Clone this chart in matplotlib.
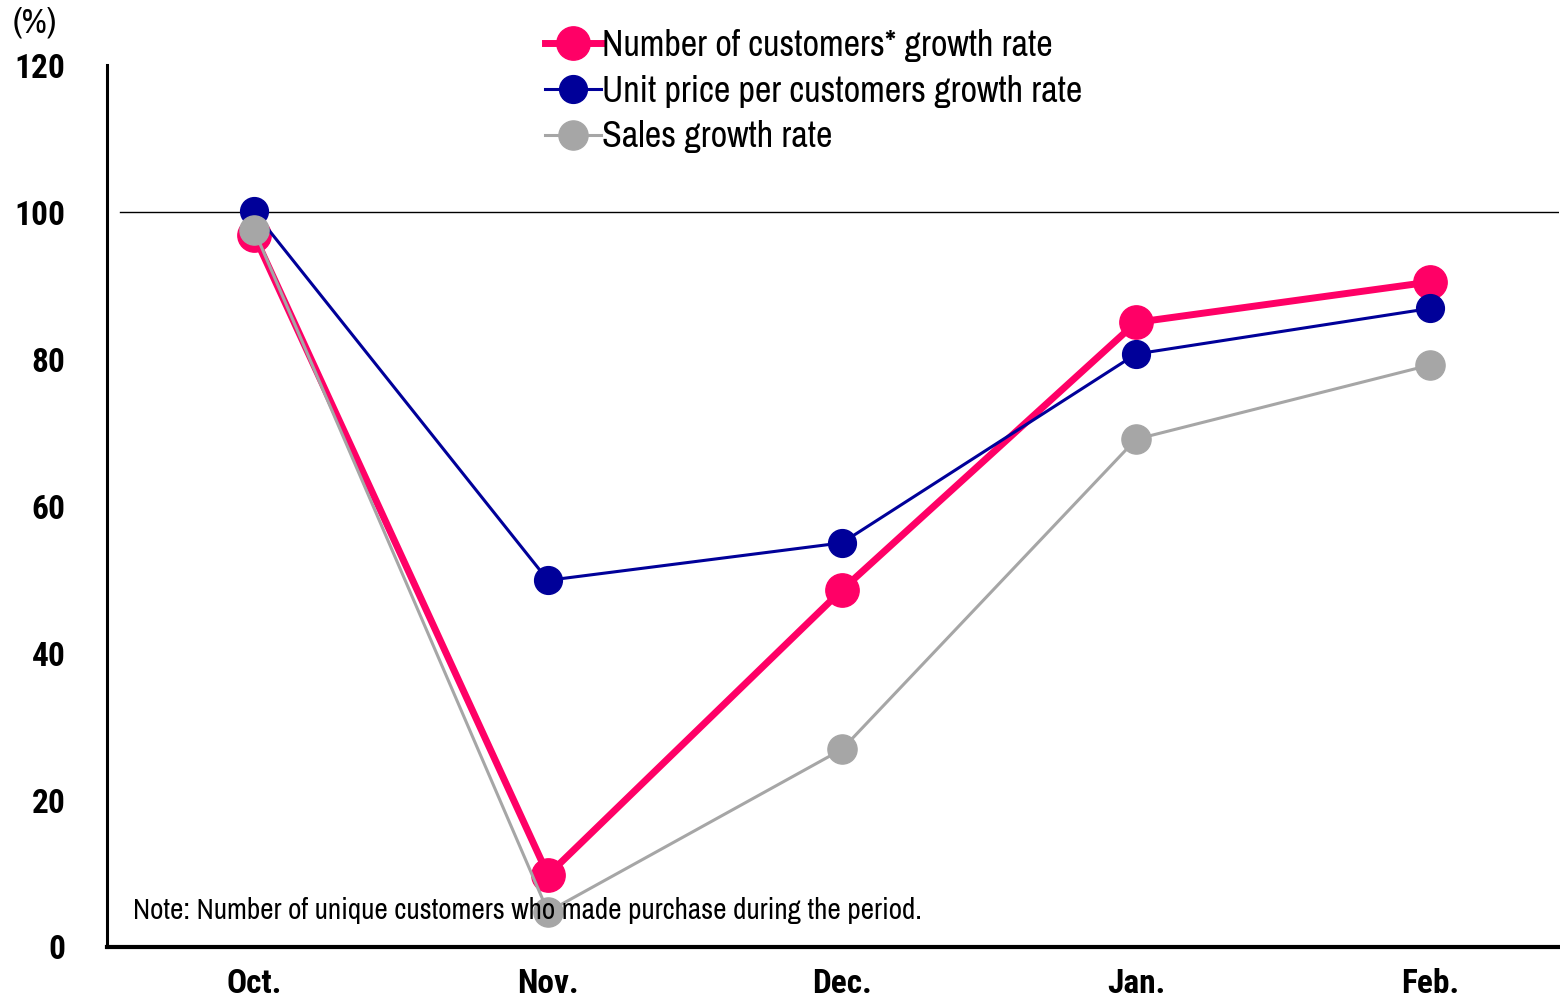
import matplotlib.pyplot as plt

months = ['Oct.', 'Nov.', 'Dec.', 'Jan.', 'Feb.']
customers = [96.9, 9.8, 48.6, 85.0, 90.5]
unit_price = [100.1, 49.9, 55.0, 80.7, 86.9]
sales = [97.6, 4.8, 26.9, 69.1, 79.2]
yticks = [0, 20, 40, 60, 80, 100, 120]

narrow = 'Archivo Narrow'
plt.rcParams['font.family'] = narrow

fig = plt.figure(figsize=(15.6, 10.02), dpi=100)
ax = fig.add_axes([0.0686, 0.0549, 0.931, 0.880])

x = range(len(months))
ax.plot(x, customers, color='#FF0066', lw=5, marker='o', ms=24, zorder=3,
        label='Number of customers* growth rate')
ax.plot(x, unit_price, color='#000099', lw=2.2, marker='o', ms=20, zorder=4,
        label='Unit price per customers growth rate')
ax.plot(x, sales, color='#A6A6A6', lw=2.2, marker='o', ms=21, zorder=5,
        label='Sales growth rate')

ax.axhline(100, xmin=0.009, xmax=1, color='black', lw=1, zorder=1)

ax.set_xlim(-0.5, 4.44)
ax.set_ylim(0, 120)
ax.set_xticks(list(x))
ax.set_xticklabels(months)
ax.set_yticks(yticks)
ax.tick_params(length=0)
ax.tick_params(axis='x', pad=15)
ax.tick_params(axis='y', pad=30)
for lab in ax.get_xticklabels() + ax.get_yticklabels():
    lab.set_family('Roboto Condensed')
    lab.set_fontweight('bold')
    lab.set_fontsize(24)

for s in ['top', 'right']:
    ax.spines[s].set_visible(False)
ax.spines['left'].set_linewidth(2.2)
ax.spines['bottom'].set_linewidth(3)

ax.text(-0.41, 5.0, 'Note: Number of unique customers who made purchase during the period.',
        fontsize=21, va='center', zorder=6)
fig.text(0.008, 0.978, '(%)', fontsize=25, va='center')

fig.legend(loc='upper left', bbox_to_anchor=(0.3375, 0.989), frameon=False,
           prop={'size': 26}, handlelength=1.55, handletextpad=0.05,
           labelspacing=0.35, borderpad=0)
fig.savefig('out.png')
